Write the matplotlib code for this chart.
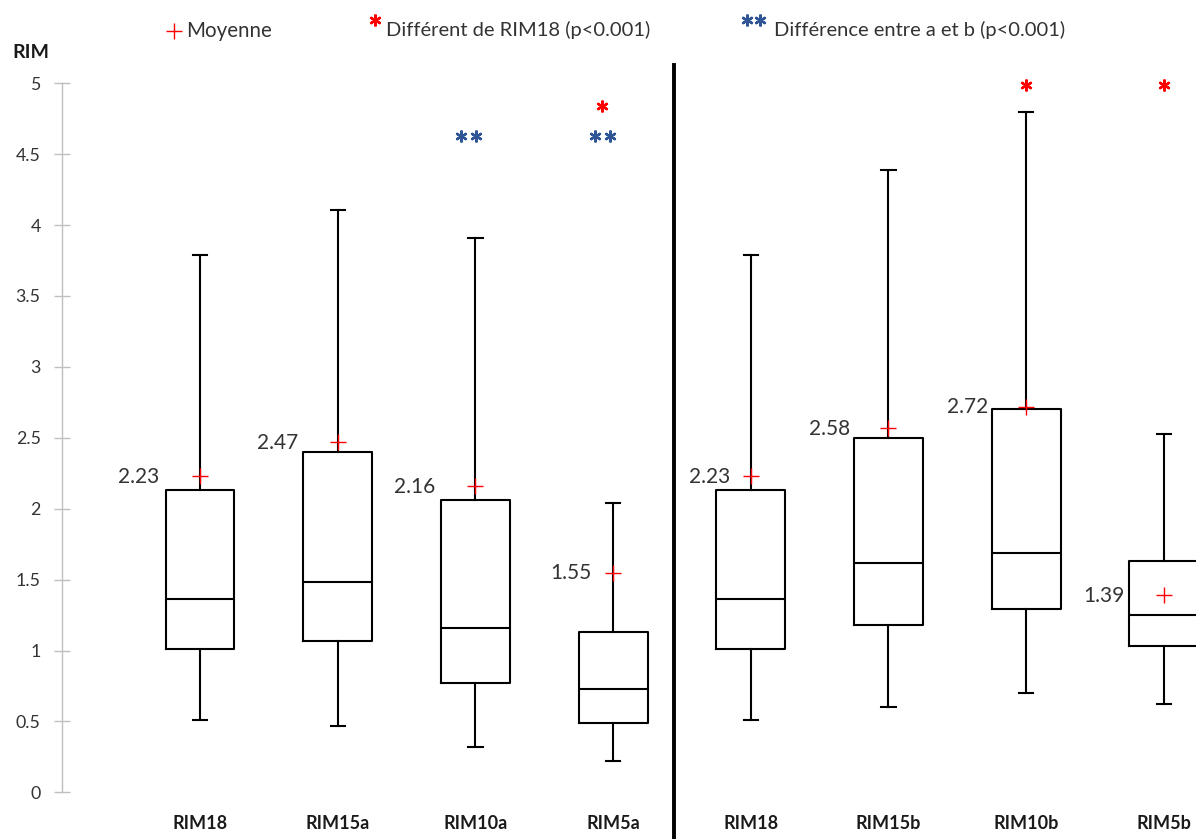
import matplotlib
matplotlib.use('Agg')
import matplotlib.pyplot as plt

# ---------------- data ----------------
categories = ['RIM18', 'RIM15a', 'RIM10a', 'RIM5a', 'RIM18', 'RIM15b', 'RIM10b', 'RIM5b']
whisker_low = [0.51, 0.47, 0.32, 0.22, 0.51, 0.60, 0.70, 0.62]
q1 = [1.01, 1.07, 0.77, 0.49, 1.01, 1.18, 1.29, 1.03]
median = [1.36, 1.48, 1.16, 0.73, 1.36, 1.62, 1.69, 1.25]
q3 = [2.13, 2.40, 2.06, 1.13, 2.13, 2.50, 2.70, 1.63]
whisker_high = [3.79, 4.11, 3.91, 2.04, 3.79, 4.39, 4.80, 2.53]
means = [2.23, 2.47, 2.16, 1.55, 2.23, 2.57, 2.72, 1.39]
mean_labels = ['2.23', '2.47', '2.16', '1.55', '2.23', '2.58', '2.72', '1.39']
y_ticks = [0, 0.5, 1, 1.5, 2, 2.5, 3, 3.5, 4, 4.5, 5]
y_tick_labels = ['0', '0.5', '1', '1.5', '2', '2.5', '3', '3.5', '4', '4.5', '5']
diff_rim18 = [False, False, False, True, False, False, True, True]   # red *
diff_ab = [False, False, True, True, False, False, False, False]      # blue **

# ---------------- style ----------------
FONT = 'Lato'
TXT = '#333333'
RED = '#ff0000'
BLUE = '#2f5597'
W, H = 1196, 839
plt.rcParams['font.family'] = [FONT, 'DejaVu Sans']

fig = plt.figure(figsize=(W / 100, H / 100), dpi=100)
x0_px, y0_px, y5_px = 62.3, 792.3, 83.3
step_px = 137.7
ax = fig.add_axes([x0_px / W, (H - y0_px) / H, (W - x0_px) / W, (y0_px - y5_px) / H])
ax.set_xlim(0, (W - x0_px) / step_px)
ax.set_ylim(0, 5)

positions = list(range(1, len(categories) + 1))
stats = []
for i in range(len(categories)):
    stats.append(dict(med=median[i], q1=q1[i], q3=q3[i], whislo=whisker_low[i],
                      whishi=whisker_high[i], mean=means[i], fliers=[]))

lw = 1.5
ax.bxp(stats, positions=positions, widths=0.5, capwidths=0.104, showmeans=True,
       showfliers=False, manage_ticks=False,
       boxprops=dict(color='black', linewidth=lw),
       whiskerprops=dict(color='black', linewidth=lw),
       capprops=dict(color='black', linewidth=lw),
       medianprops=dict(color='black', linewidth=lw),
       meanprops=dict(marker='+', markeredgecolor=RED, markerfacecolor=RED,
                      markersize=11.5, markeredgewidth=1.0, linestyle='none'))

# mean value labels (offsets in pixels from the box centre)
label_dx_px = [-40.5, -39.5, -40, -22, -21, -38.5, -38, -39.7]
for p, m, lab, dx in zip(positions, means, mean_labels, label_dx_px):
    ax.annotate(lab, xy=(p, m), xytext=(dx * 0.72, -0.5), textcoords='offset points',
                ha='right', va='center', fontsize=15, color=TXT)

# significance markers
star = dict(marker=(6, 2, 0), markersize=8.5, markeredgewidth=1.7, linestyle='none',
            clip_on=False)
for p, r, b in zip(positions, diff_rim18, diff_ab):
    if b:
        cx = p - 0.05 if p == 3 else p - 0.08
        ax.plot([cx - 0.054, cx + 0.054], [4.63, 4.63], color=BLUE, **star)
        if r:
            ax.plot([cx], [4.84], color=RED, **star)
    elif r:
        ax.plot([p], [4.99], color=RED, **star)

# separator
ax.axvline((674 - x0_px) / step_px, ymin=-(H - y0_px) / (y0_px - y5_px) - 0.01,
           ymax=(y0_px - 65) / (y0_px - y5_px), color='black', linewidth=2.8,
           clip_on=False)

# axes styling
for s in ['top', 'right', 'bottom']:
    ax.spines[s].set_visible(False)
ax.spines['left'].set_color('#bfbfbf')
ax.spines['left'].set_linewidth(1.0)
ax.spines['left'].set_bounds(0, 5)
ax.set_yticks(y_ticks)
ax.set_yticklabels(y_tick_labels)
ax.tick_params(axis='y', direction='inout', length=11.5, width=1.0, color='#bfbfbf',
               pad=9.8, labelsize=12.8, labelcolor=TXT)
ax.set_xticks(positions)
ax.set_xticklabels(categories, fontweight='bold')
ax.tick_params(axis='x', length=0, pad=16, labelsize=13, labelcolor='#1a1a1a')

# y title
fig.text(12 / W, 1 - 52 / H, 'RIM', fontsize=14, fontweight='bold', color='#1a1a1a',
         va='center', ha='left')

# legend (top)
ft = fig.transFigure
ax.plot([174 / W], [1 - 31 / H], transform=ft, marker='+', color=RED, markersize=11.5,
        markeredgewidth=1.0, linestyle='none', clip_on=False)
fig.text(186 / W, 1 - 31 / H, 'Moyenne', fontsize=14.8, color=TXT, va='center', ha='left')
ax.plot([375 / W], [1 - 20 / H], transform=ft, color=RED, **star)
fig.text(386.5 / W, 1 - 29.5 / H, 'Différent de RIM18 (p<0.001)', fontsize=14.5, color=TXT,
         va='center', ha='left')
ax.plot([747 / W, 760 / W], [1 - 20 / H, 1 - 20 / H], transform=ft, color=BLUE, **star)
fig.text(774 / W, 1 - 29.5 / H, 'Différence entre a et b (p<0.001)', fontsize=14.5,
         color=TXT, va='center', ha='left')

fig.savefig('out.png', dpi=100)
